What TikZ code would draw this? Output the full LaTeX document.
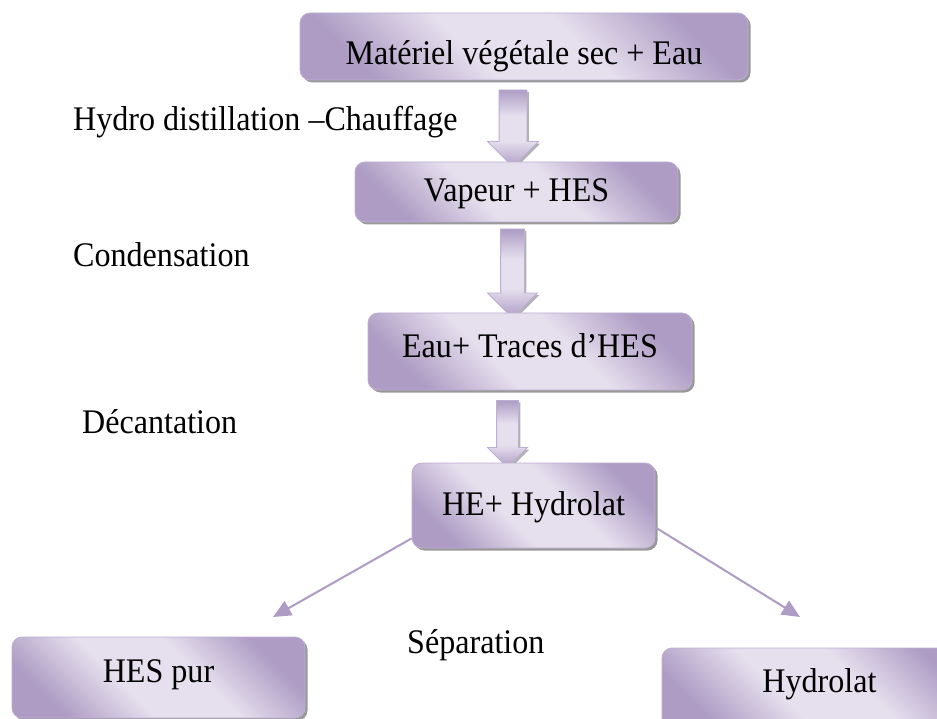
\documentclass[tikz,border=0pt]{standalone}
\usepackage{fontspec}
\setmainfont[FakeStretch=0.93]{Liberation Serif}
\usetikzlibrary{shapes.arrows,shadows,arrows.meta}
\definecolor{lilasF}{HTML}{AE9CC4}
\definecolor{lilasC}{HTML}{E6E0EE}
\definecolor{lilasB}{HTML}{BDAED3}
\pgfdeclareverticalshading{lilas}{100bp}{color(0bp)=(lilasF); color(25bp)=(lilasF);
  color(42bp)=(lilasC); color(58bp)=(lilasC); color(75bp)=(lilasF); color(100bp)=(lilasF)}
\tikzset{
  boite/.style={draw=lilasB, line width=0.8pt, rounded corners=10pt,
    shading=lilas, shading angle=-45,
    drop shadow={shadow xshift=2.5pt, shadow yshift=-2.5pt, fill=black!40, opacity=1},
    inner sep=0pt, text height=#1, text depth=0pt},
  fleche/.style={single arrow, draw=lilasB, line width=0.8pt, rotate=-90,
    shading=lilas, single arrow head indent=0pt,
    drop shadow={shadow xshift=2pt, shadow yshift=-2pt, fill=black!30, opacity=1}},
  fin/.style={draw=lilasF, line width=2pt, -{Triangle[length=18pt,width=16pt]}},
  etape/.style={inner sep=0pt, anchor=base west}
}
\begin{document}
\begin{tikzpicture}[x=1pt, y=-1pt, every node/.style={font=\fontsize{34.5}{40}\selectfont}]
\useasboundingbox (0,0) rectangle (937,719);
\clip (0,0) rectangle (937,719);
\node[fleche, minimum height=77pt, inner sep=13.5pt, single arrow head extend=11.5pt] (f1) at (513,121.5) {};
\node[fleche, minimum height=89pt, inner sep=11.5pt, single arrow head extend=13pt] (f2) at (512.5,267.5) {};
\node[fleche, minimum height=67pt, inner sep=10.5pt, single arrow head extend=9pt] (f3) at (507.5,428.5) {};
\node[boite=37pt, minimum width=448pt, minimum height=67pt] (mat) at (524,46.5) {Matériel végétale sec + Eau};
\node[boite=20pt, minimum width=323pt, minimum height=60pt] (vap) at (516.5,192) {Vapeur + HES};
\node[boite=11pt, minimum width=324pt, minimum height=77pt] (eau) at (530,351.5) {Eau+ Traces d’HES};
\node[boite=19pt, minimum width=243pt, minimum height=85pt] (hyd) at (533.5,505.5) {HE+ Hydrolat};
\node[boite=9pt, minimum width=293pt, minimum height=81pt] (pur) at (158.5,677.5) {HES pur};
\node[boite=7pt, minimum width=315pt, minimum height=81pt] (hydrolat) at (819.5,688.5) {Hydrolat};
\node[etape] (lhydro) at (73,131) {Hydro distillation –Chauffage};
\node[etape] (lcond) at (73,267) {Condensation};
\node[etape] (ldec) at (82,433) {Décantation};
\node[etape] (lsep) at (407,653) {Séparation};
\coordinate (gauche) at (273,617);
\coordinate (droite) at (800,617);
\draw[fin] ([yshift=10pt]hyd.south west) -- (gauche);
\draw[fin] ([yshift=21pt]hyd.south east) -- (droite);
\end{tikzpicture}
\end{document}
